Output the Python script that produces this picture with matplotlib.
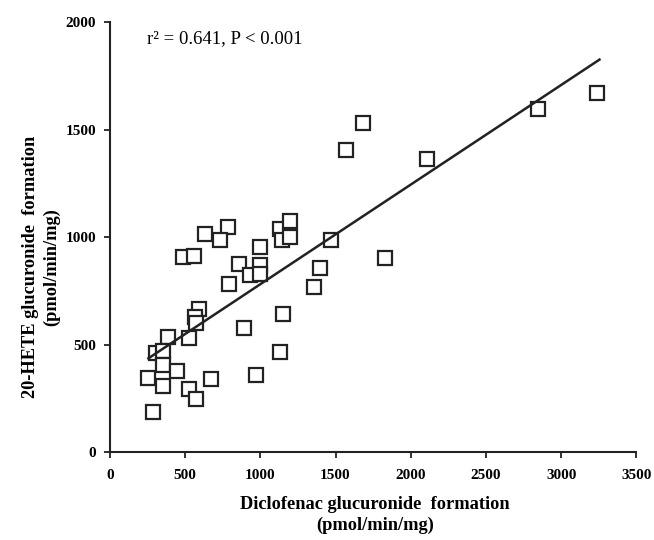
import numpy as np
import matplotlib
matplotlib.use("Agg")
import matplotlib.pyplot as plt

plt.rcParams['font.family'] = ['Liberation Serif', 'DejaVu Serif']

# diclofenac glucuronide formation (x) vs 20-HETE glucuronide formation (y)
diclofenac = [633, 782, 729, 489, 556, 1129, 1196, 1144, 1196, 996,
              856, 996, 933, 996, 789, 1473, 1400, 1360, 593, 567,
              571, 1149, 893, 389, 529, 307, 356, 1133, 356, 449,
              251, 673, 973, 356, 529, 571, 289, 1684, 1567, 2107,
              1829, 2845, 3240]
hete = [1014, 1048, 986, 908, 913, 1036, 1076, 986, 998, 955,
        876, 868, 822, 826, 780, 986, 854, 769, 664, 626,
        598, 640, 575, 533, 530, 459, 471, 467, 404, 378,
        346, 340, 357, 307, 295, 245, 185, 1532, 1405, 1364,
        902, 1597, 1671]

# regression line
fit_x = [256, 3255]
fit_slope = 0.4635
fit_intercept = 317

xticks = [0, 500, 1000, 1500, 2000, 2500, 3000, 3500]
yticks = [0, 500, 1000, 1500, 2000]

fig = plt.figure(figsize=(6.54, 5.4), dpi=100)
ax = fig.add_axes([0.168, 0.163, 0.805, 0.796])

ink = '#222222'
ax.plot(diclofenac, hete, linestyle='none', marker='s', markersize=9.5,
        markerfacecolor='white', markeredgecolor=ink, markeredgewidth=1.6)
fx = np.array(fit_x)
ax.plot(fx, fit_slope * fx + fit_intercept, color=ink, linewidth=1.8)

ax.set_xlim(0, 3500)
ax.set_ylim(0, 2000)
ax.set_xticks(xticks)
ax.set_yticks(yticks)
ax.set_xticklabels([str(t) for t in xticks], fontweight='bold', fontsize=11)
ax.set_yticklabels([str(t) for t in yticks], fontweight='bold', fontsize=11)
ax.tick_params(direction='out', length=4, width=1.3, color=ink)
ax.tick_params(axis='y', pad=6)
ax.tick_params(axis='x', pad=8)

for s in ['top', 'right']:
    ax.spines[s].set_visible(False)
for s in ['left', 'bottom']:
    ax.spines[s].set_linewidth(1.5)
    ax.spines[s].set_color(ink)

fig.text(375 / 654, 1 - 515 / 540, 'Diclofenac glucuronide  formation\n(pmol/min/mg)',
         fontweight='bold', fontsize=13.2, ha='center', va='center',
         multialignment='center', linespacing=1.3)
fig.text(41 / 654, 1 - 267 / 540, '20-HETE glucuronide  formation\n(pmol/min/mg)',
         fontweight='bold', fontsize=13.2, ha='center', va='center', rotation=90,
         multialignment='center', linespacing=1.3)

ax.text(245, 1925, 'r\u00b2 = 0.641, P < 0.001', fontsize=13.5,
        va='center', ha='left', color='black')

fig.savefig('out.png', dpi=100)
